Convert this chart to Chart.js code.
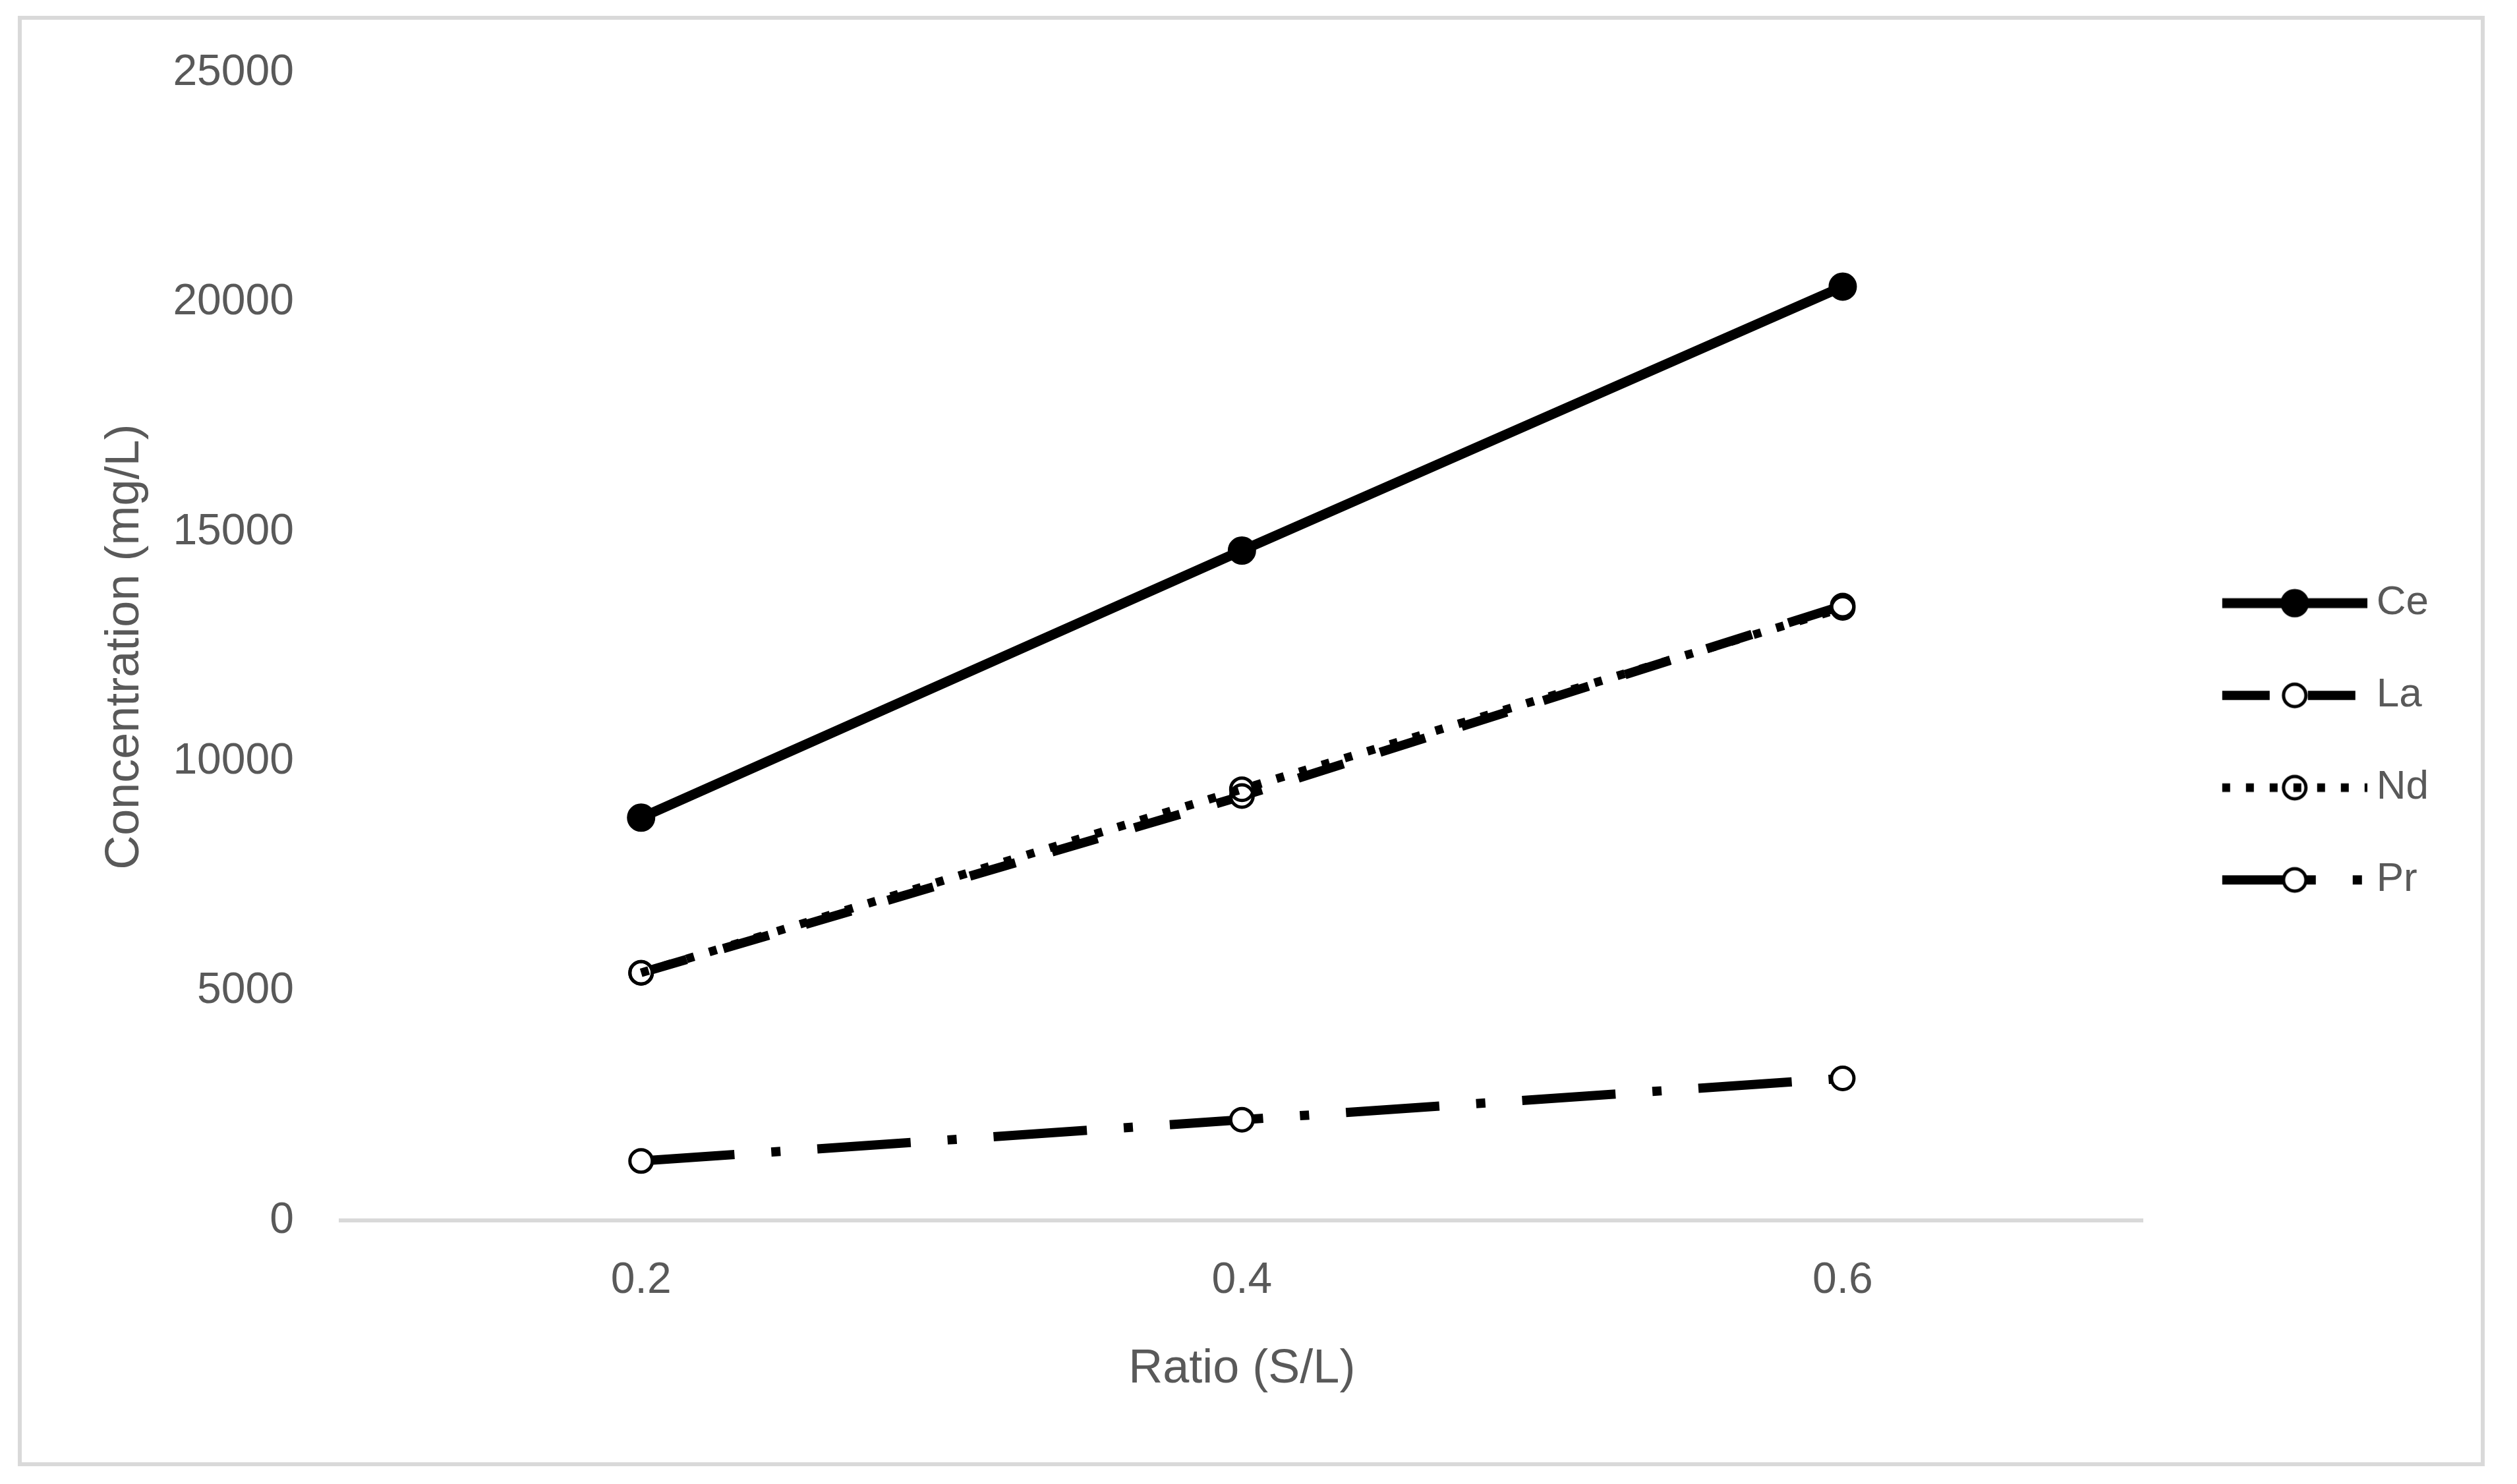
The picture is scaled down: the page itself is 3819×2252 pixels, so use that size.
<!DOCTYPE html>
<html>
<head>
<meta charset="utf-8">
<script src="https://cdn.jsdelivr.net/npm/chart.js@4.4.1/dist/chart.umd.min.js"></script>
<style>
html, body { margin: 0; padding: 0; background: #ffffff; }
#frame { position: absolute; left: 27px; top: 24px; width: 3743px; height: 2201px; border: 6px solid #d9d9d9; box-sizing: border-box; }
#wrap { position: absolute; left: 0; top: 0; width: 3819px; height: 2252px; }
</style>
</head>
<body>
<div id="frame"></div>
<div id="wrap"><canvas id="c" width="3819" height="2252"></canvas></div>
<script>
// ---- data ----
const categories = ['0.2', '0.4', '0.6'];
const seriesNames = ['Ce', 'La', 'Nd', 'Pr'];
const ceValues = [8780, 14600, 20350];
const laValues = [5400, 9250, 13400];
const ndValues = [5400, 9400, 13350];
const prValues = [1300, 2200, 3100];
const yTickValues = [0, 5000, 10000, 15000, 20000, 25000];
const xTitle = 'Ratio (S/L)';
const yTitle = 'Concentration (mg/L)';

const FONT = '"Liberation Sans", Arial, sans-serif';
const TEXT = '#595959';

const datasets = [
  { label: seriesNames[0], data: ceValues, borderColor: '#000', borderWidth: 15, borderDash: [],
    pointRadius: 19, pointBorderWidth: 5, pointBackgroundColor: '#000', pointBorderColor: '#000', order: 4 },
  { label: seriesNames[1], data: laValues, borderColor: '#000', borderWidth: 14, borderDash: [72, 58],
    pointRadius: 17, pointBorderWidth: 5, pointBackgroundColor: '#fff', pointBorderColor: '#000', order: 3 },
  { label: seriesNames[2], data: ndValues, borderColor: '#000', borderWidth: 13, borderDash: [12, 24],
    pointRadius: 17, pointBorderWidth: 5, pointBackgroundColor: 'rgba(0,0,0,0)', pointBorderColor: '#000', order: 2 },
  { label: seriesNames[3], data: prValues, borderColor: '#000', borderWidth: 14, borderDash: [142, 56, 14, 56],
    pointRadius: 17, pointBorderWidth: 5, pointBackgroundColor: '#fff', pointBorderColor: '#000', order: 1 }
];
datasets.forEach(d => { d.tension = 0; d.fill = false; d.borderCapStyle = 'butt'; d.pointHoverRadius = d.pointRadius; });

// legend swatches (line sample + marker), used as the legend point style
const SW_W = 279, SW_H = 60, SW_X0 = 59, SW_MID = 169;
function makeSwatch(ds) {
  const c = document.createElement('canvas');
  c.width = SW_W; c.height = SW_H;
  const g = c.getContext('2d');
  g.strokeStyle = ds.borderColor; g.lineWidth = ds.borderWidth; g.lineCap = 'butt';
  g.setLineDash(ds.borderDash);
  g.beginPath(); g.moveTo(SW_X0, SW_H / 2); g.lineTo(SW_W, SW_H / 2); g.stroke();
  g.setLineDash([]);
  g.beginPath(); g.arc(SW_MID, SW_H / 2, ds.pointRadius, 0, Math.PI * 2);
  g.fillStyle = ds.pointBackgroundColor; g.fill();
  g.lineWidth = ds.pointBorderWidth; g.strokeStyle = ds.pointBorderColor; g.stroke();
  return c;
}
const swatches = datasets.map(makeSwatch);

new Chart(document.getElementById('c'), {
  type: 'line',
  data: { labels: categories, datasets: datasets },
  options: {
    responsive: false,
    animation: false,
    devicePixelRatio: 1,
    layout: { padding: { left: 147, right: 124, top: 111, bottom: 131 } },
    plugins: {
      tooltip: { enabled: false },
      legend: {
        position: 'right',
        fullSize: false,
        align: 'center',
        title: { display: true, text: '', font: { size: 1 }, padding: { top: 286, bottom: 0 } },
        labels: {
          usePointStyle: true,
          pointStyleWidth: 245,
          padding: 78,
          color: TEXT,
          font: { family: FONT, size: 62 },
          generateLabels: (chart) => chart.data.datasets.map((ds, i) => ({
            text: ds.label, datasetIndex: i, pointStyle: swatches[i], hidden: false,
            fillStyle: 'rgba(0,0,0,0)', strokeStyle: 'rgba(0,0,0,0)', lineWidth: 0, fontColor: TEXT
          }))
        }
      }
    },
    scales: {
      x: {
        type: 'category',
        offset: true,
        grid: { display: false, drawTicks: false },
        border: { display: true, color: '#d9d9d9', width: 6 },
        ticks: { color: TEXT, font: { family: FONT, size: 66 }, padding: 52, maxRotation: 0 },
        title: { display: true, text: xTitle, color: TEXT, font: { family: FONT, size: 72 }, padding: { top: -1, bottom: 0 } }
      },
      y: {
        min: yTickValues[0],
        max: yTickValues[yTickValues.length - 1],
        afterBuildTicks: (axis) => { axis.ticks = yTickValues.map(v => ({ value: v })); },
        grid: { display: false, drawTicks: false },
        border: { display: false },
        ticks: { color: TEXT, font: { family: FONT, size: 66 }, padding: 71, callback: (v) => String(v) },
        title: { display: true, text: yTitle, color: TEXT, font: { family: FONT, size: 72 }, padding: { top: 0, bottom: -42 } }
      }
    }
  }
});
</script>
</body>
</html>
